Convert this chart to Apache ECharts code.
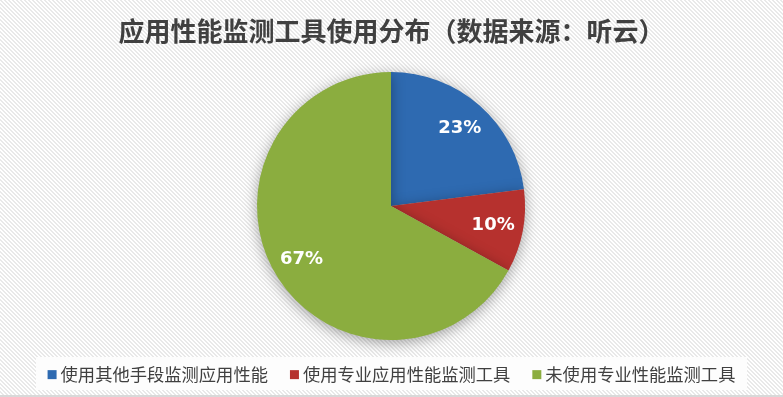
<!DOCTYPE html>
<html>
<head>
<meta charset="utf-8">
<script src="https://cdn.jsdelivr.net/npm/echarts@6/dist/echarts.min.js"></script>
<style>
  html, body { margin: 0; padding: 0; background: #fff; }
  #chart { width: 783px; height: 397px; }
</style>
</head>
<body>
<div id="chart"></div>
<script>
// Share of application performance monitoring tool usage
const categories = ['使用其他手段监测应用性能', '使用专业应用性能监测工具', '未使用专业性能监测工具'];
const shares = [23, 10, 67];
const sliceColors = ['#2e6ab1', '#b6312e', '#8bad3f'];
const titleText = '应用性能监测工具使用分布（数据来源：听云）';

// diagonal pinstripe background
function stripePattern() {
  const c = document.createElement('canvas');
  c.width = 4; c.height = 4;
  const g = c.getContext('2d');
  g.fillStyle = '#ffffff';
  g.fillRect(0, 0, 4, 4);
  g.fillStyle = '#e9e9e9';
  for (let y = 0; y < 4; y++) {
    for (let x = 0; x < 4; x++) {
      if (((x - y) & 3) < 2) g.fillRect(x, y, 1, 1);
    }
  }
  return c;
}

const pieData = categories.map((name, i) => ({
  name, value: shares[i], itemStyle: { color: sliceColors[i] }
}));

const chart = echarts.init(document.getElementById('chart'), null, { renderer: 'canvas' });
const cx = 391, cy = 206, r = 134;

chart.setOption({
  animation: false,
  backgroundColor: { image: stripePattern(), repeat: 'repeat' },
  title: {
    text: titleText,
    left: 'center',
    top: 13,
    textStyle: {
      fontFamily: '"Noto Sans CJK SC", sans-serif',
      fontSize: 26,
      fontWeight: 'bold',
      color: '#404040'
    }
  },
  graphic: [{
    type: 'rect',
    z: -1,
    shape: { x: 36, y: 357, width: 711, height: 33 },
    style: { fill: '#fdfdfd' }
  }, {
    type: 'rect',
    z: -1,
    shape: { x: 0, y: 395, width: 783, height: 2 },
    style: { fill: '#d9d9d9' }
  }],
  legend: {
    data: categories,
    left: 'center',
    top: 361,
    icon: 'rect',
    itemWidth: 9,
    itemHeight: 9,
    itemGap: 22,
    selectedMode: false,
    textStyle: {
      fontFamily: '"Noto Sans CJK SC", sans-serif',
      fontSize: 17.3,
      color: '#404040',
      padding: [0, 0, 0, -1]
    }
  },
  series: [{
    type: 'pie',
    center: [cx, cy],
    radius: [0, r],
    startAngle: 90,
    clockwise: true,
    silent: true,
    label: { show: false },
    labelLine: { show: false },
    itemStyle: {
      shadowBlur: 14,
      shadowColor: 'rgba(0,0,0,0.35)',
      shadowOffsetY: 3
    },
    data: pieData
  }, {
    // transparent ring that places the percentage labels at ~3/4 radius
    type: 'pie',
    center: [cx, cy],
    radius: [68, r],
    startAngle: 90,
    clockwise: true,
    silent: true,
    legendHoverLink: false,
    itemStyle: { color: 'rgba(0,0,0,0)' },
    label: {
      show: true,
      position: 'inside',
      formatter: p => p.value + '%',
      fontFamily: '"DejaVu Sans", sans-serif',
      fontSize: 18,
      fontWeight: 'bold',
      color: '#ffffff'
    },
    labelLine: { show: false },
    data: categories.map((name, i) => ({ name: name + ' ', value: shares[i] }))
  }]
});
</script>
</body>
</html>
